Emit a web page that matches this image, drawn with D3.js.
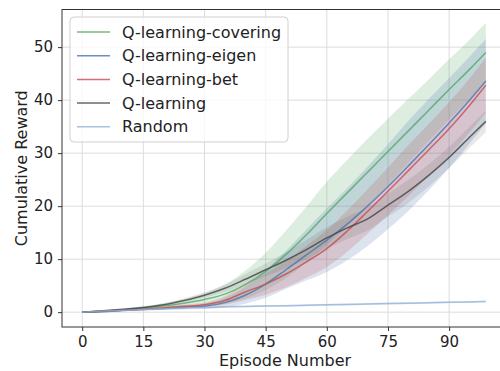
<!DOCTYPE html>
<html lang="en">
<head>
  <meta charset="UTF-8">
  <title>Cumulative Reward</title>
  <style>
    body { margin: 0; background: #fff; }
    text { font-family: 'DejaVu Sans', sans-serif; fill: #222; }
    .grid line { stroke: #dcdcdc; stroke-width: 1px; }
    .axis path, .axis line { stroke: #333; }
  </style>
</head>
<body>
  <div id="chart"></div>
  <script src="https://cdn.jsdelivr.net/npm/d3@7"></script>
  <script>
    // Episodes sampled every 5 steps (last one is 99)
    const episodes = [0, 5, 10, 15, 20, 25, 30, 35, 40, 45, 50, 55, 60, 65, 70, 75, 80, 85, 90, 95, 99];

    // Mean cumulative reward per method
    const covering = [0, 0.2, 0.45, 0.8, 1.2, 1.7, 2.4, 3.4, 5.2, 7.7, 10.9, 14.6, 18.6, 22.5, 26.4, 30.3, 34.2, 38.1, 42, 45.8, 49];
    const eigen    = [0, 0.1, 0.3, 0.5, 0.7, 0.9, 1.1, 1.8, 3.2, 5.3, 8, 10.8, 13.6, 16.6, 20, 23.7, 27.6, 31.6, 35.7, 40, 43.6];
    const bet      = [0, 0.15, 0.35, 0.6, 0.85, 1.1, 1.4, 2.2, 3.8, 5.3, 7.2, 9.5, 12, 15.3, 19, 22.8, 26.7, 30.6, 34.6, 39, 42.8];
    const qlearn   = [0, 0.25, 0.55, 0.9, 1.4, 2.2, 3.2, 4.5, 6.2, 8, 9.8, 11.8, 14, 15.9, 17.6, 20.2, 22.8, 25.8, 29.2, 33, 36];
    const random   = [0, 0.2, 0.35, 0.5, 0.65, 0.78, 0.9, 1.0, 1.08, 1.15, 1.22, 1.3, 1.38, 1.46, 1.54, 1.62, 1.7, 1.78, 1.86, 1.94, 2.0];

    // Spread (half-width of shaded band) per method
    const coveringSd = [0, 0.1, 0.2, 0.3, 0.5, 0.8, 1.2, 1.8, 2.6, 3.5, 4.5, 5.3, 6, 6.2, 6.3, 6.2, 6, 5.8, 5.7, 5.6, 5.6];
    const eigenSd    = [0, 0.05, 0.1, 0.2, 0.3, 0.4, 0.5, 0.9, 1.6, 2.6, 3.6, 4.8, 6, 6.8, 7.5, 8, 8.5, 8.6, 8.5, 8.2, 8];
    const betSd      = [0, 0.05, 0.1, 0.2, 0.25, 0.3, 0.4, 0.8, 1.5, 2, 2.5, 3, 3.5, 3.9, 4.2, 4.5, 4.8, 4.9, 5, 5.1, 5.2];
    const qlearnSd   = [0, 0.05, 0.1, 0.2, 0.3, 0.4, 0.5, 0.7, 1, 1.2, 1.5, 1.8, 2, 2.1, 2.2, 2.2, 2.2, 2.1, 2, 2, 2];
    const randomSd   = [0, 0.05, 0.08, 0.1, 0.12, 0.14, 0.15, 0.16, 0.17, 0.18, 0.19, 0.2, 0.2, 0.2, 0.2, 0.2, 0.2, 0.2, 0.2, 0.2, 0.2];

    const names = ['Q-learning-covering', 'Q-learning-eigen', 'Q-learning-bet', 'Q-learning', 'Random'];
    const xTicks = [0, 15, 30, 45, 60, 75, 90];
    const yTicks = [0, 10, 20, 30, 40, 50];

    const colors = ['#55A868', '#4C72B0', '#C44E52', '#444444', '#92B2D6'];
    const bandOpacity = [0.2, 0.2, 0.2, 0.12, 0.2];
    const means = [covering, eigen, bet, qlearn, random];
    const sds = [coveringSd, eigenSd, betSd, qlearnSd, randomSd];

    const W = 500, H = 371;
    const plot = { left: 62, top: 9.5, right: 506, bottom: 327 };

    const svg = d3.select('#chart').append('svg')
      .attr('width', W)
      .attr('height', H);

    const x = d3.scaleLinear().domain([-4.95, 103.95]).range([plot.left, plot.right]);
    const y = d3.scaleLinear().domain([-2.8, 57.1]).range([plot.bottom, plot.top]);

    // Grid
    const grid = svg.append('g').attr('class', 'grid');
    grid.selectAll('.gx').data(xTicks).enter().append('line')
      .attr('x1', d => x(d)).attr('x2', d => x(d))
      .attr('y1', plot.top).attr('y2', plot.bottom);
    grid.selectAll('.gy').data(yTicks).enter().append('line')
      .attr('x1', plot.left).attr('x2', plot.right)
      .attr('y1', d => y(d)).attr('y2', d => y(d));

    // Bands then lines
    const series = names.map((n, i) => ({
      name: n,
      color: colors[i],
      op: bandOpacity[i],
      pts: episodes.map((e, j) => ({ e: e, m: means[i][j], s: sds[i][j] }))
    }));

    const area = d3.area()
      .x(d => x(d.e))
      .y0(d => y(d.m - d.s))
      .y1(d => y(d.m + d.s))
      .curve(d3.curveMonotoneX);

    const line = d3.line()
      .x(d => x(d.e))
      .y(d => y(d.m))
      .curve(d3.curveMonotoneX);

    svg.selectAll('.band').data(series).enter().append('path')
      .attr('class', 'band')
      .attr('d', d => area(d.pts))
      .attr('fill', d => d.color)
      .attr('fill-opacity', d => d.op)
      .attr('stroke', 'none');

    svg.selectAll('.line').data(series).enter().append('path')
      .attr('class', 'line')
      .attr('d', d => line(d.pts))
      .attr('fill', 'none')
      .attr('stroke', d => d.color)
      .attr('stroke-opacity', 0.8)
      .attr('stroke-width', 1.5);

    // Frame
    svg.append('rect')
      .attr('x', plot.left).attr('y', plot.top)
      .attr('width', plot.right - plot.left).attr('height', plot.bottom - plot.top)
      .attr('fill', 'none').attr('stroke', '#333').attr('stroke-width', 1);

    // Axes
    const xAxis = svg.append('g').attr('class', 'axis')
      .attr('transform', `translate(0, ${plot.bottom})`)
      .call(d3.axisBottom(x).tickValues(xTicks).tickSize(4).tickPadding(5));
    xAxis.select('.domain').remove();
    xAxis.selectAll('text').style('font-size', '15px');

    const yAxis = svg.append('g').attr('class', 'axis')
      .attr('transform', `translate(${plot.left}, 0)`)
      .call(d3.axisLeft(y).tickValues(yTicks).tickSize(4).tickPadding(5));
    yAxis.select('.domain').remove();
    yAxis.selectAll('text').style('font-size', '15px');

    // Axis labels
    svg.append('text')
      .attr('x', 285).attr('y', 366)
      .attr('text-anchor', 'middle')
      .style('font-size', '16px')
      .text('Episode Number');

    svg.append('text')
      .attr('transform', `translate(27, ${(plot.top + plot.bottom) / 2}) rotate(-90)`)
      .attr('text-anchor', 'middle')
      .style('font-size', '16px')
      .text('Cumulative Reward');

    // Legend
    const leg = svg.append('g').attr('transform', 'translate(70, 17)');
    leg.append('rect')
      .attr('width', 218).attr('height', 125)
      .attr('rx', 4)
      .attr('fill', '#fff').attr('fill-opacity', 0.8)
      .attr('stroke', '#d0d0d0');

    const items = leg.selectAll('.item').data(series).enter().append('g')
      .attr('transform', (d, i) => `translate(0, ${15 + i * 23.7})`);
    items.append('line')
      .attr('x1', 7).attr('x2', 40)
      .attr('stroke', d => d.color)
      .attr('stroke-opacity', 0.8)
      .attr('stroke-width', 1.5);
    items.append('text')
      .attr('x', 52).attr('dy', '0.35em')
      .style('font-size', '16px')
      .text(d => d.name);
  </script>
</body>
</html>
